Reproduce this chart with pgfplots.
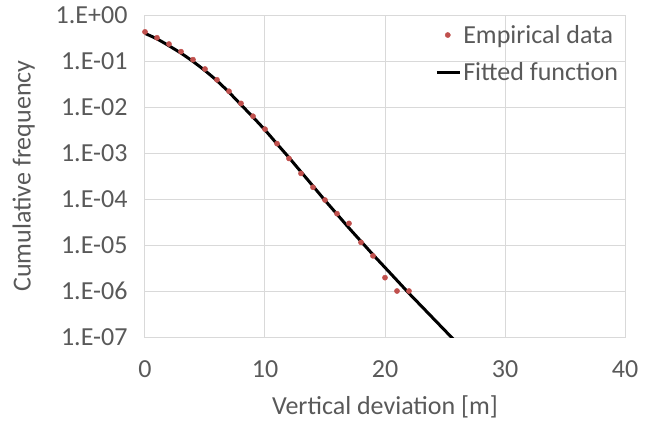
\documentclass[border=0pt]{standalone}
\usepackage{pgfplots}
\pgfplotsset{compat=1.18}
\usepackage{fontspec}
\setmainfont{Carlito}
\definecolor{txtgrey}{HTML}{595959}
\definecolor{gridgrey}{HTML}{D9D9D9}
\definecolor{dotred}{HTML}{C0504D}
\pgfplotsset{
  dotlegend/.style={legend image code/.code={\draw[##1] plot coordinates {(11pt,0pt)};}},
  linelegend/.style={legend image code/.code={\draw[##1] (0pt,0pt) -- (23pt,0pt);}},
}
\begin{document}
\begin{tikzpicture}
\begin{axis}[
  ymode=log,
  scale only axis,
  width=480pt, height=322pt,
  xmin=0, xmax=40, ymin=1e-7, ymax=1,
  xtick={0,10,20,30,40},
  ytick={1e-7,1e-6,1e-5,1e-4,1e-3,1e-2,1e-1,1},
  yticklabels={1.E-07,1.E-06,1.E-05,1.E-04,1.E-03,1.E-02,1.E-01,1.E+00},
  minor ytick={}, minor xtick={}, log ticks with fixed point=false,
  grid=major,
  major grid style={gridgrey, line width=1pt},
  axis line style={gridgrey, line width=1pt},
  major tick length=0pt, minor tick length=0pt,
  tick style={draw=none},
  tick label style={font=\fontsize{26}{30}\selectfont, text=txtgrey},
  /pgf/number format/assume math mode=true,
  xticklabel style={yshift=-20pt},
  yticklabel style={xshift=-14pt},
  label style={font=\fontsize{26}{30}\selectfont, text=txtgrey},
  xlabel={Vertical deviation [m]},
  ylabel={Cumulative frequency},
  xlabel style={yshift=-11pt},
  ylabel style={yshift=14pt},
  legend style={draw=none, fill=none, at={(rel axis cs:0.99,0.975)}, anchor=north east,
    font=\fontsize{26}{30}\selectfont, text=txtgrey,
    row sep=14pt, inner sep=0pt, cells={anchor=west}},
  legend cell align=left,
]
\addplot[only marks, mark=*, mark size=2.6pt, color=dotred, dotlegend]
coordinates {
(0,0.43) (1,0.32) (2,0.234) (3,0.16) (4,0.107) (5,0.067) (6,0.039)
(7,0.022) (8,0.012) (9,0.0063) (10,0.0033) (11,0.0016) (12,7.6e-4)
(13,3.6e-4) (14,1.8e-4) (15,9.5e-5) (16,4.8e-5) (17,2.95e-5)
(18,1.14e-5) (19,5.8e-6) (20,1.95e-6) (21,1.0e-6) (22,1.0e-6)
};
\addlegendentry{Empirical data}
\addplot[black, line width=3pt, smooth, linelegend]
coordinates {
(0,0.398) (1,0.302) (2,0.214) (3,0.148) (4,0.0977) (5,0.0617) (6,0.0372)
(7,0.0209) (8,0.0112) (9,6.03e-3) (10,3.16e-3) (11,1.58e-3) (12,7.94e-4)
(13,3.89e-4) (14,1.91e-4) (15,9.33e-5) (16,4.68e-5) (17,2.34e-5)
(18,1.20e-5) (19,6.17e-6) (20,3.24e-6) (21,1.70e-6) (22,8.91e-7)
(23,4.79e-7) (24,2.57e-7) (25,1.38e-7) (26,7.4e-8)
};
\addlegendentry{Fitted function}
\coordinate (sw) at (rel axis cs:0,0);
\coordinate (ne) at (rel axis cs:1,1);
\end{axis}
\pgfresetboundingbox
\path ([shift={(-145pt,-86pt)}]sw) rectangle ([shift={(31pt,15pt)}]ne);
\end{tikzpicture}
\end{document}
